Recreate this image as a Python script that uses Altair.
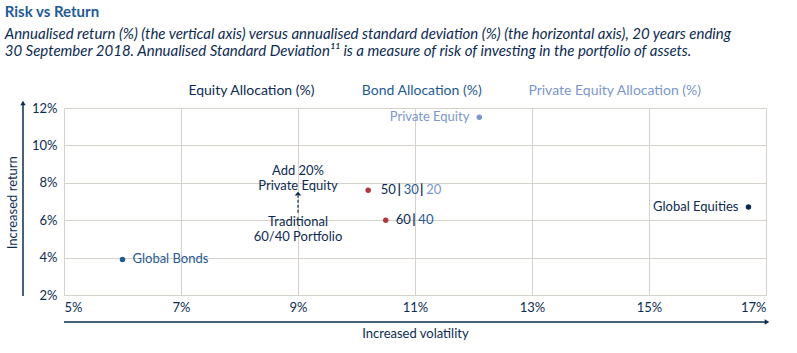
import altair as alt
import pandas as pd

# ---- data ----
names = ["Global Bonds", "Private Equity", "Global Equities", "50/30/20", "60/40"]
vol = [6.0, 12.1, 16.7, 10.2, 10.5]
ret = [3.9, 11.5, 6.7, 7.6, 6.0]
dot_colors = ["#1f5a96", "#7b97cc", "#0d2b52", "#b0393b", "#b0393b"]

x_ticks = [5, 7, 9, 11, 13, 15, 17]
y_ticks = [2, 4, 6, 8, 10, 12]

headers = ["Equity Allocation (%)", "Bond Allocation (%)", "Private Equity Allocation (%)"]
header_colors = ["#0d2b52", "#1f5a96", "#7b97cc"]

arrow_x = 9.0
arrow_from = 6.4
arrow_to = 7.3
arrow_head = 7.42
add_lines = ["Add 20%", "Private Equity"]
add_y = [8.63, 7.83]
trad_lines = ["Traditional", "60/40 Portfolio"]
trad_y = [5.92, 5.12]

NAVY = "#0d2b52"
BLUE = "#1f5a96"
LIGHT = "#7b97cc"
GRID = "#d6d1cb"
FONT = "Lato"

W, H = 702, 187

df = pd.DataFrame({"name": names, "vol": vol, "ret": ret, "color": dot_colors})

xs = alt.Scale(domain=[5, 17], nice=False, zero=False)
ys = alt.Scale(domain=[2, 12], nice=False, zero=False)

x_axis = alt.Axis(values=x_ticks, labelExpr="datum.value + '%'", title=None, labelOverlap=False,
                  grid=True, gridColor=GRID, domain=False, ticks=False,
                  labelPadding=6, labelFontSize=13, labelColor=NAVY, labelFont=FONT)
y_axis = alt.Axis(values=y_ticks, labelExpr="datum.value + '%'", title=None, labelOverlap=False,
                  grid=True, gridColor=GRID, domain=False, ticks=False,
                  labelPadding=7, labelFontSize=13, labelColor=NAVY, labelFont=FONT)

def X(f="vol"):
    return alt.X(f"{f}:Q", scale=xs, axis=x_axis)

def Y(f="ret"):
    return alt.Y(f"{f}:Q", scale=ys, axis=y_axis)

points = alt.Chart(df).mark_circle(size=30, opacity=1).encode(
    x=X(), y=Y(), color=alt.Color("color:N", scale=None))

def label(name, text, color, dx, align, bold=False):
    return alt.Chart(df[df["name"] == name]).mark_text(
        text=text, color=color, dx=dx, align=align, baseline="middle", fontSize=13, font=FONT,
        fontWeight="bold" if bold else "normal"
    ).encode(x=X(), y=Y())

labels = [
    label("Global Bonds", "Global Bonds", BLUE, 10, "left"),
    label("Private Equity", "Private Equity", LIGHT, -10, "right"),
    label("Global Equities", "Global Equities", NAVY, -10, "right"),
    label("50/30/20", "50", NAVY, 12.6, "left"),
    label("50/30/20", "|", NAVY, 31, "center", True),
    label("50/30/20", "30", BLUE, 35.5, "left"),
    label("50/30/20", "|", NAVY, 53.5, "center", True),
    label("50/30/20", "20", LIGHT, 58, "left"),
    label("60/40", "60", NAVY, 10, "left"),
    label("60/40", "|", NAVY, 28.3, "center", True),
    label("60/40", "40", BLUE, 32.6, "left"),
]

arrow_df = pd.DataFrame({"vol": [arrow_x], "ret": [arrow_from], "ret2": [arrow_to], "head": [arrow_head]})
arrow = alt.Chart(arrow_df).mark_rule(color=NAVY, strokeDash=[3, 2], strokeWidth=1.2).encode(
    x=X(), y=Y(), y2="ret2:Q")
head = alt.Chart(arrow_df).mark_point(shape="M -1 0.55 L 1 0.55 L 0 -0.55 Z", filled=True, size=45,
                                      color=NAVY, opacity=1).encode(x=X(), y=Y("head"))

ann_df = pd.DataFrame({"vol": [arrow_x] * 4, "ret": add_y + trad_y, "t": add_lines + trad_lines})
ann = alt.Chart(ann_df).mark_text(color=NAVY, fontSize=13, font=FONT, align="center", baseline="middle").encode(
    x=X(), y=Y(), text="t:N")

def fixed_text(text, x, y, color=NAVY, size=13, align="left", weight="normal", style="normal", angle=0):
    return alt.Chart(pd.DataFrame({"t": [text]})).mark_text(
        color=color, fontSize=size, font=FONT, align=align, baseline="middle",
        fontWeight=weight, fontStyle=style, angle=angle
    ).encode(x=alt.value(x), y=alt.value(y), text="t:N")

header_x = [251.7 - 64.3, 422 - 64.3, 615 - 64.3]
hdrs = [fixed_text(h, hx, -16.6, c, 14, "center") for h, hx, c in zip(headers, header_x, header_colors)]

title = fixed_text("Risk vs Return", -59.3, -96.3, BLUE, 15, "left", "bold")
sub1 = fixed_text("Annualised return (%) (the vertical axis) versus annualised standard deviation (%) (the horizontal axis), 20 years ending",
                  -59.3, -74.3, NAVY, 15, "left", style="italic")
sub2 = fixed_text("30 September 2018. Annualised Standard Deviation¹¹ is a measure of risk of investing in the portfolio of assets.",
                  -59.3, -57.3, NAVY, 15, "left", style="italic")

xt = fixed_text("Increased volatility", 351.4, 225.7, NAVY, 13, "center")
yt = fixed_text("Increased return", -51.3, 94.7, NAVY, 13, "center", angle=270)

one = pd.DataFrame({"a": [0]})
yaxis_line = alt.Chart(one).mark_rule(color=NAVY, strokeWidth=1.5).encode(
    x=alt.value(-41), y=alt.value(-5), y2=alt.value(188))
yaxis_head = alt.Chart(one).mark_point(shape="triangle-up", filled=True, size=28, color=NAVY, opacity=1).encode(
    x=alt.value(-41), y=alt.value(-5))
xaxis_line = alt.Chart(one).mark_rule(color=NAVY, strokeWidth=1.5).encode(
    x=alt.value(0), x2=alt.value(702), y=alt.value(214))
xaxis_head = alt.Chart(one).mark_point(shape="triangle-right", filled=True, size=28, color=NAVY, opacity=1).encode(
    x=alt.value(703), y=alt.value(214))

chart = alt.layer(
    points, *labels, arrow, head, ann, *hdrs, title, sub1, sub2, xt, yt,
    yaxis_line, yaxis_head, xaxis_line, xaxis_head
).properties(
    width=W, height=H,
    autosize=alt.AutoSizeParams(type="none"),
    padding={"left": 64, "top": 108, "right": 31, "bottom": 58},
    background="white",
).configure_view(stroke=None)

chart.save("out.html", embed_options={"renderer": "svg", "actions": False})
